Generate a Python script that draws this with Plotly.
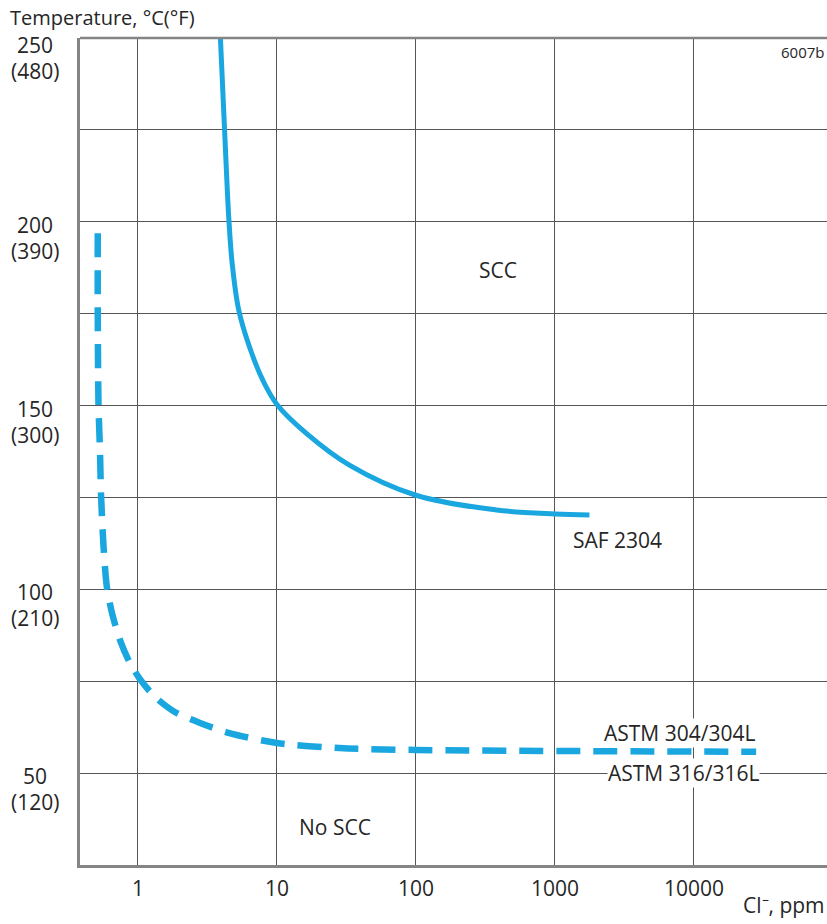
import math
import plotly.graph_objects as go

# --- data -------------------------------------------------------------
saf_cl = [3.92, 4.36, 4.52, 4.76, 5.31, 6.34, 7.91, 10, 16.2, 33.2, 100, 379, 1000, 1770]
saf_temp = [250, 211.4, 200.0, 188.8, 176.0, 166.0, 156.9, 150.3, 142.5, 133.8, 125.6, 121.6, 120.5, 120.2]

astm_cl = [0.514, 0.514, 0.520, 0.533, 0.543, 0.565, 0.598, 0.656, 0.748, 0.869, 1.025, 1.314,
           1.830, 2.77, 4.55, 10, 28.2, 100, 28000]
astm_temp = [196.9, 176.0, 150.7, 137.9, 125.6, 112.0, 100.6, 93.0, 85.9, 80.2, 75.8, 70.9,
             66.7, 63.7, 60.9, 58.2, 56.8, 56.3, 55.8]

x_tick_vals = [1, 10, 100, 1000, 10000]
x_tick_text = ["1", "10", "100", "1000", "10000"]
y_label_vals = [250, 200, 150, 100, 50]
y_label_c = ["250", "200", "150", "100", "50"]
y_label_f = ["(480)", "(390)", "(300)", "(210)", "(120)"]
y_grid_vals = [50, 75, 100, 125, 150, 175, 200, 225, 250]

# --- styles -----------------------------------------------------------
BLUE = "#1aa7e0"
GRID = "#555555"
AXIS = "#858585"
TXT = "#262626"
FONT = "Open Sans"
FS = 21

fig = go.Figure()
fig.add_trace(go.Scatter(x=saf_cl, y=saf_temp, mode="lines",
                         line=dict(color=BLUE, width=5, shape="spline", smoothing=1),
                         hoverinfo="skip", showlegend=False))
fig.add_trace(go.Scatter(x=astm_cl, y=astm_temp, mode="lines",
                         line=dict(color=BLUE, width=6.5, shape="spline", smoothing=0.8, dash="24px,13px"),
                         hoverinfo="skip", showlegend=False))

W, H = 827, 924
L, R, T, B = 80, 0, 38, 59
pw = W - L - R

fig.update_layout(
    width=W, height=H,
    margin=dict(l=L, r=R, t=T, b=B),
    plot_bgcolor="white", paper_bgcolor="white",
    font=dict(family=FONT, size=FS, color=TXT),
    xaxis=dict(type="log", range=[math.log10(0.383), 4.957],
               tickvals=x_tick_vals, showticklabels=False, ticks="",
               showgrid=True, gridcolor=GRID, gridwidth=1.3,
               showline=True, linecolor=AXIS, linewidth=2.5, zeroline=False),
    yaxis=dict(range=[25, 250], tickvals=y_grid_vals, showticklabels=False, ticks="",
               showgrid=True, gridcolor=GRID, gridwidth=1.3,
               showline=True, linecolor=AXIS, linewidth=2.5, zeroline=False),
)

# top border line
fig.add_shape(type="line", xref="paper", yref="paper", x0=0, x1=1, y0=1, y1=1,
              line=dict(color=AXIS, width=2.5))

def ann(text, x, y, xref, yref, xanchor="center", yanchor="middle", xshift=0, yshift=0,
        size=FS, bg=None):
    fig.add_annotation(x=x, y=y, xref=xref, yref=yref, text=text, showarrow=False,
                       xanchor=xanchor, yanchor=yanchor, xshift=xshift, yshift=yshift,
                       bgcolor=bg if bg else "rgba(0,0,0,0)", borderpad=0,
                       font=dict(size=size, color=TXT, family=FONT))

# y labels (two lines, first line centred near the gridline)
lab_x = (35 - L) / pw
for v, c, f in zip(y_label_vals, y_label_c, y_label_f):
    off = -7 if v == 250 else -3
    ann(c, lab_x, v, "paper", "y", yshift=off)
    ann(f, lab_x, v, "paper", "y", yshift=off - 26)

# x tick labels
for v, t in zip(x_tick_vals, x_tick_text):
    ann(t, math.log10(v), 0, "x", "paper", yshift=-23)

ann("Temperature, °C(°F)", (9 - L) / pw, 1, "paper", "paper", xanchor="left", yshift=38 - 17,
    size=20)
ann("6007b", 1, 1, "paper", "paper", xanchor="right", xshift=-2, yshift=-14, size=15)
ann("Cl⁻, ppm", 1, 0, "paper", "paper", xanchor="right", xshift=-1, yshift=-40)

ann("SCC", 2.59, 187, "x", "y")
ann("No SCC", 1.417, 35.4, "x", "y")
ann("SAF 2304", 3.453, 113.3, "x", "y")
ann("ASTM 304/304L", 3.899, 60.9, "x", "y", bg="white")
ann("ASTM 316/316L", 3.928, 50.0, "x", "y", bg="white")

fig.write_html("out.html", config={"displayModeBar": False},
               post_script="document.body.style.margin='0';document.body.style.overflow='hidden';")
